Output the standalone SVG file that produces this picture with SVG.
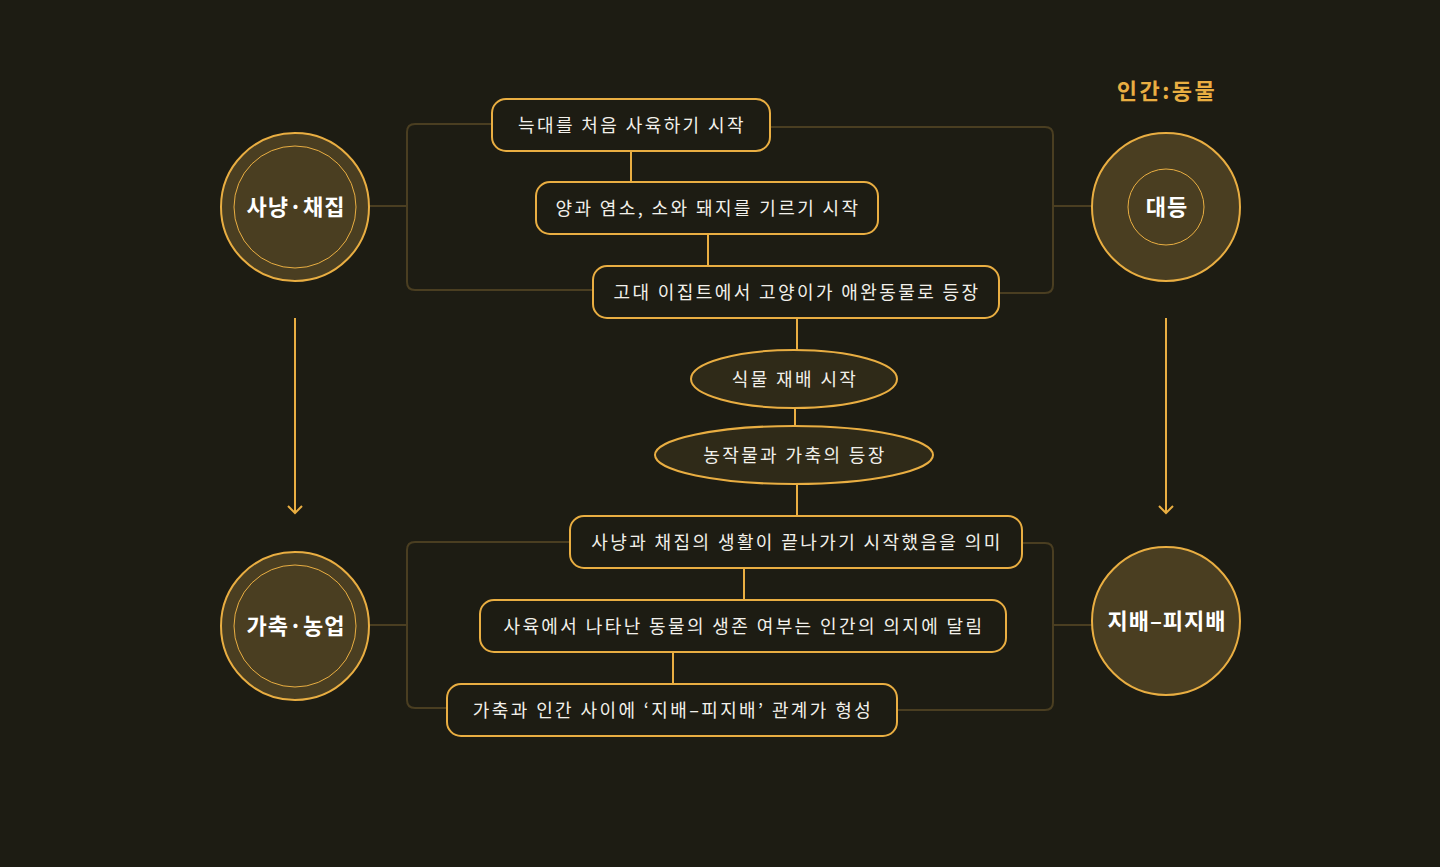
<svg xmlns="http://www.w3.org/2000/svg" width="1440" height="867" viewBox="0 0 1440 867">
<defs>
<style>
.bg{fill:#1d1c13}
.box{fill:#1d1c13;stroke:#e9ae42;stroke-width:2}
.ell{fill:#2f2a18;stroke:#e9ae42;stroke-width:2}
.circ{fill:#4a3e21;stroke:#e9ae42;stroke-width:2}
.inner{fill:none;stroke:#e9ae42;stroke-width:1}
.t{font-family:"Noto Sans CJK KR","Noto Sans",sans-serif;font-size:18px;letter-spacing:2.4px;fill:#f2f0ea;text-anchor:middle;dominant-baseline:central}
.ct{font-family:"Noto Sans CJK KR","Noto Sans",sans-serif;font-size:22px;font-weight:bold;letter-spacing:1px;fill:#ffffff;text-anchor:middle;dominant-baseline:central}
.hd{font-family:"Noto Sans CJK KR","Noto Sans",sans-serif;font-size:22px;font-weight:bold;letter-spacing:2.5px;fill:#e9ae42;text-anchor:middle;dominant-baseline:central}
.lk{fill:none;stroke:#e9ae42;stroke-width:2}
.br{fill:none;stroke:#4a3e21;stroke-width:2}
</style>
<marker id="arr" viewBox="0 0 12 16" refX="10" refY="8" markerWidth="12" markerHeight="16" markerUnits="userSpaceOnUse" orient="auto">
<path d="M3,1 L10,8 L3,15" fill="none" stroke="#e9ae42" stroke-width="2"/>
</marker>
</defs>
<rect class="bg" x="0" y="0" width="1440" height="867"/>

<g id="connectors">
<path class="br" d="M369,206 H407 M492,124 H415 Q407,124 407,132 V282 Q407,290 415,290 H593"/>
<path class="br" d="M770,127 H1045 Q1053,127 1053,135 V285 Q1053,293 1045,293 H999 M1053,206 H1092"/>
<path class="br" d="M369,625 H407 M570,542 H415 Q407,542 407,550 V700 Q407,708 415,708 H447"/>
<path class="br" d="M1022,543 H1045 Q1053,543 1053,551 V702 Q1053,710 1045,710 H897 M1053,625 H1092"/>
<line class="lk" x1="631" y1="151" x2="631" y2="182"/>
<line class="lk" x1="708" y1="234" x2="708" y2="266"/>
<line class="lk" x1="797" y1="318" x2="797" y2="350"/>
<line class="lk" x1="795" y1="408" x2="795" y2="426"/>
<line class="lk" x1="797" y1="484" x2="797" y2="516"/>
<line class="lk" x1="744" y1="568" x2="744" y2="600"/>
<line class="lk" x1="673" y1="652" x2="673" y2="684"/>
<line class="lk" x1="295" y1="318" x2="295" y2="513" marker-end="url(#arr)"/>
<line class="lk" x1="1166" y1="318" x2="1166" y2="513" marker-end="url(#arr)"/>
</g>

<g id="header"><text class="hd" x="1167" y="89">인간:동물</text></g>

<g id="hunting"><circle class="circ" cx="295" cy="207" r="74"/><circle class="inner" cx="295" cy="207" r="61"/><text class="ct" x="296" y="205">사냥·채집</text></g>
<g id="farming"><circle class="circ" cx="295" cy="626" r="74"/><circle class="inner" cx="295" cy="626" r="61"/><text class="ct" x="296" y="624">가축·농업</text></g>
<g id="equal"><circle class="circ" cx="1166" cy="207" r="74"/><circle class="inner" cx="1166" cy="207" r="38"/><text class="ct" x="1167" y="205">대등</text></g>
<g id="dominance"><circle class="circ" cx="1166" cy="621" r="74"/><text class="ct" x="1167" y="619">지배–피지배</text></g>

<g id="b1"><rect class="box" x="492" y="99" width="278" height="52" rx="14"/><text class="t" x="632" y="124">늑대를 처음 사육하기 시작</text></g>
<g id="b2"><rect class="box" x="536" y="182" width="342" height="52" rx="14"/><text class="t" x="708" y="207">양과 염소, 소와 돼지를 기르기 시작</text></g>
<g id="b3"><rect class="box" x="593" y="266" width="406" height="52" rx="14"/><text class="t" x="797" y="291">고대 이집트에서 고양이가 애완동물로 등장</text></g>
<g id="e1"><ellipse class="ell" cx="794" cy="379" rx="103" ry="29"/><text class="t" x="795" y="378">식물 재배 시작</text></g>
<g id="e2"><ellipse class="ell" cx="794" cy="455" rx="139" ry="29"/><text class="t" x="795" y="454">농작물과 가축의 등장</text></g>
<g id="b4"><rect class="box" x="570" y="516" width="452" height="52" rx="14"/><text class="t" x="797" y="541">사냥과 채집의 생활이 끝나가기 시작했음을 의미</text></g>
<g id="b5"><rect class="box" x="480" y="600" width="526" height="52" rx="14"/><text class="t" x="744" y="625">사육에서 나타난 동물의 생존 여부는 인간의 의지에 달림</text></g>
<g id="b6"><rect class="box" x="447" y="684" width="450" height="52" rx="14"/><text class="t" x="673" y="709">가축과 인간 사이에 ‘지배–피지배’ 관계가 형성</text></g>
</svg>
